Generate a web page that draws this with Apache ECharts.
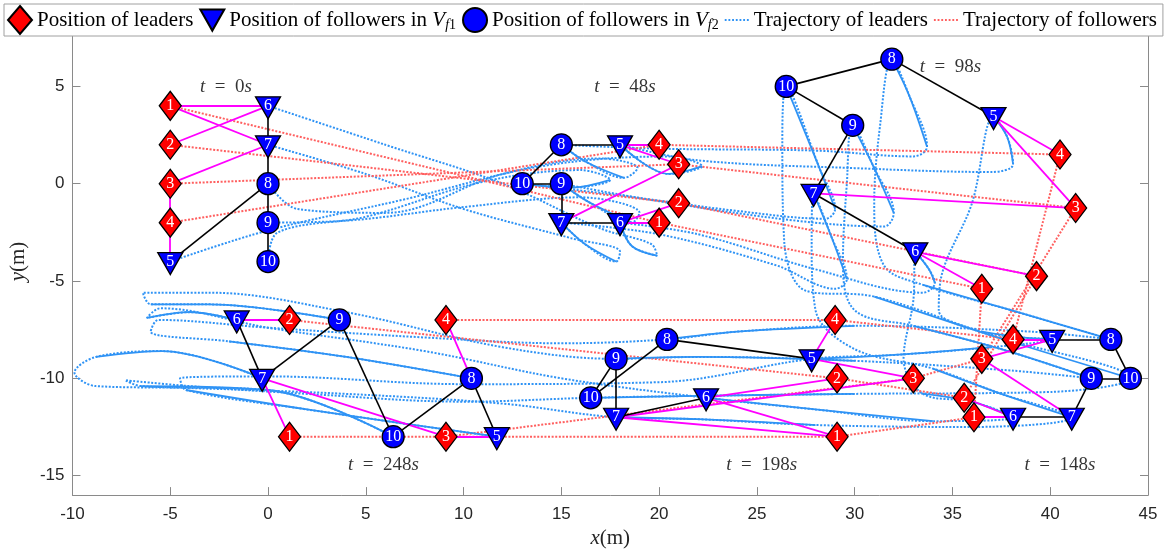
<!DOCTYPE html>
<html><head><meta charset="utf-8">
<script src="https://cdn.jsdelivr.net/npm/echarts@6/dist/echarts.min.js"></script>
<style>html,body{margin:0;padding:0;background:#fff}#c{width:1166px;height:554px}</style>
</head><body><div id="c"></div>
<script>
// ---------------- DATA ----------------
const times = [0, 48, 98, 148, 198, 248];
const leaderIds = [1, 2, 3, 4];
const f1Ids = [5, 6, 7];
const f2Ids = [8, 9, 10];
// positions of agents 1..10 at each snapshot [x, y]
const posT0   = [[-5,4],[-5,2],[-5,0],[-5,-2],[-5,-4],[0,4],[0,2],[0,0],[0,-2],[0,-4]];
const posT48  = [[20,-2],[21,-1],[21,1],[20,2],[18,2],[18,-2],[15,-2],[15,2],[15,0],[13,0]];
const posT98  = [[36.5,-5.4],[39.3,-4.75],[41.3,-1.25],[40.5,1.5],[37.1,3.45],[33.1,-3.5],[27.9,-0.5],[31.9,6.4],[29.9,3],[26.5,5]];
const posT148 = [[36.1,-12],[35.6,-11],[36.5,-9],[38.1,-8],[40.1,-8],[38.1,-12],[41.1,-12],[43.1,-8],[42.1,-10],[44.1,-10]];
const posT198 = [[29.1,-13],[29.1,-10],[33,-10],[29,-7],[27.8,-9],[22.4,-11],[17.8,-12],[20.4,-8],[17.8,-9],[16.5,-11]];
const posT248 = [[1.1,-13],[1.1,-7],[9.1,-13],[9.1,-7],[11.7,-13],[-1.6,-7],[-0.3,-10],[10.4,-10],[3.65,-7],[6.4,-13]];

// communication edges (agent id pairs)
const blackEdgesT0   = [[6,7],[7,8],[8,9],[9,10],[5,8]];
const blackEdgesT48  = [[8,5],[8,10],[10,9],[9,7],[7,6]];
const blackEdgesT98  = [[10,8],[8,5],[10,9],[9,7],[7,6]];
const blackEdgesT148 = [[5,8],[8,10],[10,9],[9,7],[7,6]];
const blackEdgesT198 = [[8,5],[8,10],[10,9],[9,7],[7,6]];
const blackEdgesT248 = [[6,7],[7,9],[9,10],[10,8],[8,5]];
const magentaEdgesT0   = [[1,6],[1,7],[2,6],[3,7],[3,4],[4,5]];
const magentaEdgesT48  = [[5,4],[5,3],[3,7],[6,2],[6,1]];
const magentaEdgesT98  = [[5,4],[5,3],[7,3],[6,2],[6,1]];
const magentaEdgesT148 = [[5,4],[5,3],[3,7],[6,2],[6,1]];
const magentaEdgesT198 = [[5,4],[5,3],[7,3],[6,2],[6,1],[7,1]];
const magentaEdgesT248 = [[6,2],[7,1],[7,3],[4,8],[3,5]];

// follower trajectory waypoints between snapshots (excluding snapshot end points)
const legs5 = [
  [[0,-2.4],[7,-0.8],[14,0.9],[20.5,1.4],[22.2,0.9],[20.5,0.5]],
  [[22,1.2],[30,0.8],[37,0.6],[38.1,1.0],[37.8,2.4]],
  [[36,-1],[34.5,-4.5],[34.3,-6.5],[36.5,-7.6],[38.5,-7.9]],
  [[37,-8.4],[32,-8.8]],
  [[20,-10.2],[10,-10.3],[0,-9.9],[-4.5,-10.0],[-4.2,-10.6],[2,-11.6]]
];
const legs6 = [
  [[6,2],[12,0],[17,-2.3],[19.6,-3.1],[19.9,-3.7],[18.6,-3.2]],
  [[22,-2.6],[28,-4.4],[33.5,-5.6],[34.1,-5.1],[33.8,-4.4]],
  [[33,-6],[32.5,-9],[33.5,-10.8],[36,-11.2]],
  [[34,-12.2],[28,-11.6]],
  [[15,-10],[8,-8.6],[0,-7.4],[-5.5,-6.4],[-6.2,-6.9],[-4,-6.6]]
];
const legs7 = [
  [[5,0.5],[10,-1.3],[15.5,-2.8],[18,-3.5],[17.8,-4.0],[16.2,-3.1]],
  [[20,-2.6],[26,-4.2],[29,-5.4],[29.6,-4.9],[28.8,-2.7]],
  [[27.8,-3],[28,-6.5],[30,-8.5],[34,-9.5],[37.5,-10.8]],
  [[36,-12.5],[28,-12.4],[22,-12.1]],
  [[12,-11.3],[4,-10.8],[-4,-10.5],[-8.8,-10.4],[-9.9,-9.7],[-8.8,-8.9],[-5.4,-8.6]]
];
const legs8 = [
  [[1.5,-1.3],[6,-1.5],[12,0.5],[17,1.3],[18.9,0.8],[18.2,0.3],[16.3,1.1]],
  [[20,1.8],[28,1.7],[33,1.4],[33.7,1.9],[32.8,4.5]],
  [[31.3,3],[31,-1],[31.5,-4.2],[33.5,-5.2],[38,-6.5]],
  [[39,-7.6],[30,-7.3],[24,-7.6]],
  [[15,-8.2],[8,-7.9],[0,-7.4],[-5.6,-7.0],[-6,-7.6],[-2,-8.1],[4,-8.9]]
];
const legs9 = [
  [[4,-1.9],[10,-1.2],[16,-0.7],[19,-1.5],[18.6,-2.0],[16.5,-1.0]],
  [[20,-0.9],[27,-1.9],[31.5,-2.2],[32,-1.5],[31,0.8]],
  [[29.6,0],[29.4,-4],[30,-6.5],[33,-7.3],[37.5,-8.5]],
  [[38,-9.6],[30,-9.1],[22,-8.9]],
  [[12,-8.4],[4,-6.6],[-3,-5.6],[-6.4,-5.6],[-6.0,-6.2],[-3,-6.2]]
];
const legs10 = [
  [[0.5,-2.5],[5,-1.7],[11,0.1],[16,0.7],[17.5,0.2],[15.5,-0.2]],
  [[18,-0.6],[24,-1.4],[28.5,-1.8],[29,-1.3],[28.2,0.8]],
  [[26.3,2],[26.4,-3],[27.5,-5.5],[31,-5.8],[37,-7.8]],
  [[40,-10.7],[30,-10.8],[22,-10.9]],
  [[10,-11.2],[2,-10.8],[-4,-10.4],[-7.3,-10.1],[-6.5,-10.4],[0,-10.6]]
];

// time annotations
const timeLabelX = [-2.15, 18.25, 34.9, 40.5, 25.25, 5.9];
const timeLabelY = [4.96, 4.96, 5.98, -14.45, -14.45, -14.45];

// axis ticks
const xTicks = [-10, -5, 0, 5, 10, 15, 20, 25, 30, 35, 40, 45];
const yTicks = [-15, -10, -5, 0, 5];

const legendNames = ['Position of leaders', 'Position of followers in V_f1', 'Position of followers in V_f2', 'Trajectory of leaders', 'Trajectory of followers'];

// ---------------- BUILD ----------------
const serif = 'Liberation Serif';
const snapshots = [posT0, posT48, posT98, posT148, posT198, posT248];
const blackEdges = [blackEdgesT0, blackEdgesT48, blackEdgesT98, blackEdgesT148, blackEdgesT198, blackEdgesT248];
const magentaEdges = [magentaEdgesT0, magentaEdgesT48, magentaEdgesT98, magentaEdgesT148, magentaEdgesT198, magentaEdgesT248];
const followerLegs = {5: legs5, 6: legs6, 7: legs7, 8: legs8, 9: legs9, 10: legs10};

const BLUE = '#2f93f5', RED = '#ff5f5f';
const series = [];

// follower trajectories (blue dotted) -- legend calls them 'Trajectory of leaders'
Object.keys(followerLegs).forEach(k => {
  const id = +k, legs = followerLegs[k];
  const path = [snapshots[0][id - 1]];
  legs.forEach((leg, j) => { leg.forEach(p => path.push(p)); path.push(snapshots[j + 1][id - 1]); });
  series.push({
    type: 'line', name: legendNames[3], data: path, smooth: 0.35, symbol: 'none', silent: true, z: 1,
    lineStyle: { color: BLUE, width: 2, type: [2, 1.6] }, itemStyle: { color: BLUE }
  });
});
// leader trajectories (red dotted) -- legend calls them 'Trajectory of followers'
leaderIds.forEach(id => {
  series.push({
    type: 'line', name: legendNames[4], data: snapshots.map(s => s[id - 1]), symbol: 'none', silent: true, z: 1,
    lineStyle: { color: RED, width: 2, type: [2, 1.6] }, itemStyle: { color: RED }
  });
});
// slow arrival parts (solid)
Object.keys(followerLegs).forEach(k => {
  const id = +k, legs = followerLegs[k];
  legs.forEach((leg, j) => {
    const tail = leg.slice(-2).concat([snapshots[j + 1][id - 1]]);
    series.push({
      type: 'line', name: legendNames[3], data: tail, smooth: 0.35, symbol: 'none', silent: true, z: 1,
      lineStyle: { color: BLUE, width: 1.8 }, itemStyle: { color: BLUE }
    });
  });
});
// edges
function edgeData(list) {
  const out = [];
  list.forEach((edges, s) => edges.forEach(([a, b]) => out.push({ coords: [snapshots[s][a - 1], snapshots[s][b - 1]] })));
  return out;
}
series.push({ type: 'lines', coordinateSystem: 'cartesian2d', data: edgeData(magentaEdges), silent: true, z: 2,
  lineStyle: { color: '#ff00ff', width: 1.8, opacity: 1 } });
series.push({ type: 'lines', coordinateSystem: 'cartesian2d', data: edgeData(blackEdges), silent: true, z: 2,
  lineStyle: { color: '#000', width: 1.6, opacity: 1 } });

function agentPoints(ids) {
  const out = [];
  snapshots.forEach(s => ids.forEach(id => out.push([s[id - 1][0], s[id - 1][1], id])));
  return out;
}
const markerLabel = { show: true, position: 'inside', formatter: p => String(p.value[2]), color: '#fff', fontFamily: serif, fontSize: 16 };
series.push({ type: 'scatter', name: legendNames[0], data: agentPoints(leaderIds), symbol: 'diamond', symbolSize: [22, 29], z: 5,
  itemStyle: { color: '#ff0000', borderColor: '#000', borderWidth: 1.3, opacity: 1 }, label: markerLabel, silent: true });
series.push({ type: 'scatter', name: legendNames[1], data: agentPoints(f1Ids), symbol: 'triangle', symbolRotate: 180, symbolSize: [25, 22], symbolOffset: [0, 2], z: 5,
  itemStyle: { color: '#0000ff', borderColor: '#000', borderWidth: 1.3, opacity: 1 }, label: Object.assign({}, markerLabel, { offset: [0, -2] }), silent: true });
series.push({ type: 'scatter', name: legendNames[2], data: agentPoints(f2Ids), symbol: 'circle', symbolSize: 22, z: 5,
  itemStyle: { color: '#0000ff', borderColor: '#000', borderWidth: 1.3, opacity: 1 }, label: markerLabel, silent: true });
// time labels
series.push({ type: 'scatter', data: times.map((t, i) => [timeLabelX[i], timeLabelY[i], t]), symbolSize: 1, z: 6, silent: true,
  itemStyle: { color: 'rgba(0,0,0,0)' },
  label: { show: true, position: 'inside', color: '#000', fontFamily: serif, fontSize: 19,
    formatter: p => '{i|t}\u2002=\u2002' + p.value[2] + '{i|s}',
    rich: { i: { fontStyle: 'italic', fontFamily: serif, fontSize: 19, color: '#000' } } } });

const dotIcon = 'path://M0,0h2v2h-2zM4,0h2v2h-2zM8,0h2v2h-2zM12,0h2v2h-2zM16,0h2v2h-2zM20,0h2v2h-2zM24,0h2v2h-2z';
const downTriangle = 'path://M0,0L26,0L13,23Z';
const axisCol = '#8a8a8a';
const option = {
  animation: false,
  backgroundColor: '#fff',
  grid: { left: 70, right: 18, top: 28, bottom: 57 },
  legend: {
    data: [
      { name: legendNames[0], icon: 'diamond' },
      { name: legendNames[1], icon: downTriangle },
      { name: legendNames[2], icon: 'circle' },
      { name: legendNames[3], icon: dotIcon, itemStyle: { color: BLUE, borderWidth: 0 } },
      { name: legendNames[4], icon: dotIcon, itemStyle: { color: RED, borderWidth: 0 } }
    ],
    left: 4, top: 4, padding: [1, 6, 1, 3], itemGap: 6, itemWidth: 24, itemHeight: 28,
    backgroundColor: '#fff', borderColor: '#a0a0a0', borderWidth: 1, z: 10, selectedMode: false,
    symbolKeepAspect: true,
    textStyle: { fontFamily: serif, fontSize: 21, color: '#000',
      rich: { it: { fontStyle: 'italic', fontFamily: serif, fontSize: 21 },
              sb: { fontStyle: 'italic', fontFamily: serif, fontSize: 14, padding: [10, 0, 0, 0] },
              sn: { fontFamily: serif, fontSize: 14, padding: [10, 0, 0, 0] } } },
    formatter: name => name.replace('V_f1', '{it|V}{sb|f}{sn|1}').replace('V_f2', '{it|V}{sb|f}{sn|2}')
  },
  xAxis: [
    { type: 'value', min: -10, max: 45, interval: 5, position: 'bottom',
      name: '{i|x}(m)', nameLocation: 'middle', nameGap: 30,
      nameTextStyle: { fontFamily: serif, fontSize: 21, color: '#262626', rich: { i: { fontStyle: 'italic', fontFamily: serif, fontSize: 21 } } },
      axisLine: { show: true, onZero: false, lineStyle: { color: axisCol, width: 1 } },
      axisTick: { show: true, inside: true, length: 8, lineStyle: { color: axisCol } },
      axisLabel: { show: true, margin: 11, fontFamily: 'Liberation Sans', fontSize: 17, color: '#262626', customValues: xTicks },
      splitLine: { show: false } },
    { type: 'value', min: -10, max: 45, interval: 5, position: 'top',
      axisLine: { show: true, onZero: false, lineStyle: { color: axisCol, width: 1 } },
      axisTick: { show: true, inside: true, length: 8, lineStyle: { color: axisCol } },
      axisLabel: { show: false }, splitLine: { show: false } }
  ],
  yAxis: [
    { type: 'value', min: -16, max: 8, position: 'left',
      name: '{i|y}(m)', nameLocation: 'middle', nameGap: 27,
      nameTextStyle: { fontFamily: serif, fontSize: 21, color: '#262626', rich: { i: { fontStyle: 'italic', fontFamily: serif, fontSize: 21 } } },
      axisLine: { show: true, onZero: false, lineStyle: { color: axisCol, width: 1 } },
      axisTick: { show: true, inside: true, length: 8, lineStyle: { color: axisCol }, customValues: yTicks },
      axisLabel: { show: true, margin: 8, fontFamily: 'Liberation Sans', fontSize: 17, color: '#262626', customValues: yTicks },
      splitLine: { show: false } },
    { type: 'value', min: -16, max: 8, position: 'right',
      axisLine: { show: true, onZero: false, lineStyle: { color: axisCol, width: 1 } },
      axisTick: { show: true, inside: true, length: 8, lineStyle: { color: axisCol }, customValues: yTicks },
      axisLabel: { show: false }, splitLine: { show: false } }
  ],
  series: series
};
const chart = echarts.init(document.getElementById('c'), null, { renderer: 'canvas' });
chart.setOption(option);
</script>
</body></html>
